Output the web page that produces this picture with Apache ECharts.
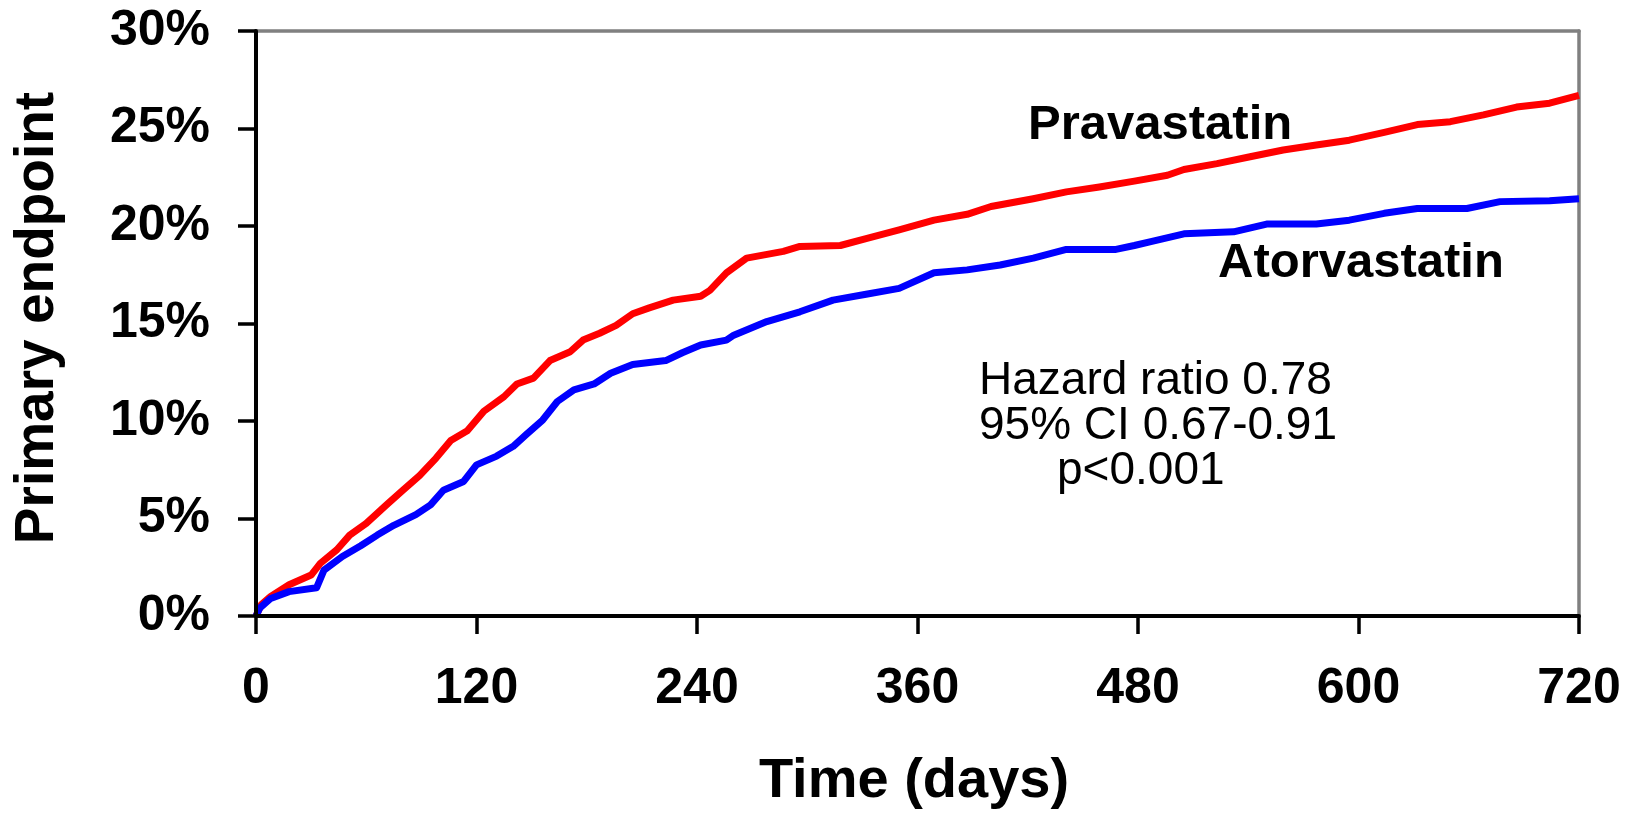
<!DOCTYPE html>
<html>
<head>
<meta charset="utf-8">
<title>Primary endpoint over time</title>
<script src="https://cdn.jsdelivr.net/npm/echarts@6/dist/echarts.min.js"></script>
<style>
  html, body { margin: 0; padding: 0; background: #fff; }
  #chart { width: 1628px; height: 813px; }
</style>
</head>
<body>
<div id="chart"></div>
<script>
// Cumulative incidence of the primary endpoint (days, percent)
const pravaDays = [0, 3, 8, 18, 30, 35, 44, 51, 60, 71, 80, 89, 98, 106, 115, 124, 135, 142, 151, 160, 171, 178, 187, 196, 205, 214, 227, 242, 247, 256, 267, 287, 296, 318, 332, 350, 369, 387, 400, 423, 441, 459, 478, 496, 505, 523, 541, 559, 577, 595, 614, 632, 650, 668, 686, 704, 720];
const pravaPct  = [0, 0.6, 1.0, 1.6, 2.1, 2.7, 3.4, 4.15, 4.75, 5.7, 6.45, 7.2, 8.1, 9.0, 9.5, 10.5, 11.25, 11.9, 12.2, 13.1, 13.55, 14.15, 14.5, 14.9, 15.5, 15.8, 16.2, 16.4, 16.7, 17.6, 18.35, 18.7, 18.95, 19.0, 19.35, 19.8, 20.3, 20.6, 21.0, 21.4, 21.75, 22.0, 22.3, 22.6, 22.9, 23.2, 23.55, 23.9, 24.15, 24.4, 24.8, 25.2, 25.35, 25.7, 26.1, 26.3, 26.7];

const atorDays = [0, 2, 8, 18, 33, 37, 47, 57, 66, 75, 87, 95, 102, 113, 120, 131, 140, 147, 156, 164, 173, 184, 193, 205, 223, 232, 242, 256, 260, 278, 296, 314, 332, 350, 369, 387, 405, 423, 441, 468, 478, 487, 505, 532, 550, 577, 595, 614, 632, 659, 677, 704, 720];
const atorPct  = [0, 0.4, 0.9, 1.25, 1.45, 2.35, 3.05, 3.6, 4.15, 4.65, 5.2, 5.7, 6.45, 6.9, 7.75, 8.2, 8.7, 9.3, 10.05, 11.0, 11.6, 11.9, 12.45, 12.9, 13.1, 13.5, 13.9, 14.15, 14.4, 15.1, 15.6, 16.2, 16.5, 16.8, 17.6, 17.75, 18.0, 18.35, 18.8, 18.8, 19.0, 19.2, 19.6, 19.7, 20.1, 20.1, 20.3, 20.65, 20.9, 20.9, 21.25, 21.3, 21.4];

const seriesNames = ['Pravastatin', 'Atorvastatin'];
const statsLines = ['Hazard ratio 0.78', '95% CI 0.67-0.91', 'p<0.001'];
const xTitle = 'Time (days)';
const yTitle = 'Primary endpoint';

const FONT = '"Liberation Sans", Arial, Helvetica, sans-serif';

function pairs(xs, ys) { return xs.map((x, i) => [x, ys[i]]); }

const chart = echarts.init(document.getElementById('chart'), null, { renderer: 'canvas' });

function textEl(txt, x, y, font, align, extra) {
  return Object.assign({
    type: 'text', x: x, y: y, silent: true,
    style: { text: txt, font: font, fill: '#000', align: align, verticalAlign: 'middle' }
  }, extra || {});
}

// Frame edges on the top and right drawn as plain grey axes
const frameAxis = {
  show: true,
  axisLine: { show: true, onZero: false, lineStyle: { color: '#808080', width: 3.5 } },
  axisTick: { show: false },
  axisLabel: { show: false },
  splitLine: { show: false }
};

chart.setOption({
  animation: false,
  backgroundColor: '#fff',
  grid: { left: 256, top: 31, right: 49, bottom: 197, show: false },
  xAxis: [
    {
      type: 'value', min: 0, max: 720, interval: 120,
      axisLine: { show: true, onZero: false, lineStyle: { color: '#000', width: 4 } },
      axisTick: { show: true, inside: false, length: 18, lineStyle: { color: '#000', width: 3.5 } },
      axisLabel: { margin: 48, color: '#000', fontFamily: FONT, fontWeight: 'bold', fontSize: 50 },
      splitLine: { show: false }, z: 5
    },
    Object.assign({ type: 'value', min: 0, max: 720, position: 'top', z: 1 }, frameAxis)
  ],
  yAxis: [
    {
      type: 'value', min: 0, max: 30, interval: 5,
      axisLine: { show: true, onZero: false, lineStyle: { color: '#000', width: 4 } },
      axisTick: { show: true, inside: false, length: 18, lineStyle: { color: '#000', width: 3.5 } },
      axisLabel: { margin: 46, color: '#000', fontFamily: FONT, fontWeight: 'bold', fontSize: 50, formatter: '{value}%' },
      splitLine: { show: false }, z: 5
    },
    Object.assign({ type: 'value', min: 0, max: 30, position: 'right', z: 1 }, frameAxis)
  ],
  series: [
    {
      name: seriesNames[0], type: 'line', data: pairs(pravaDays, pravaPct),
      showSymbol: false, symbol: 'none', clip: false, z: 3,
      lineStyle: { color: '#ff0000', width: 7, join: 'round', cap: 'butt' }
    },
    {
      name: seriesNames[1], type: 'line', data: pairs(atorDays, atorPct),
      showSymbol: false, symbol: 'none', clip: false, z: 4,
      lineStyle: { color: '#0000ff', width: 7, join: 'round', cap: 'butt' }
    }
  ],
  graphic: [
    textEl(seriesNames[0], 1028, 125, 'bold 49px ' + FONT, 'left'),
    textEl(seriesNames[1], 1218, 263, 'bold 49px ' + FONT, 'left'),
    textEl(statsLines[0], 979, 381, '46px ' + FONT, 'left'),
    textEl(statsLines[1], 979, 426, '46px ' + FONT, 'left'),
    textEl(statsLines[2], 1057, 471, '46px ' + FONT, 'left'),
    textEl(xTitle, 914, 782, 'bold 56px ' + FONT, 'center'),
    textEl(yTitle, 38, 318, 'bold 55px ' + FONT, 'center', { rotation: Math.PI / 2 })
  ]
});
</script>
</body>
</html>
